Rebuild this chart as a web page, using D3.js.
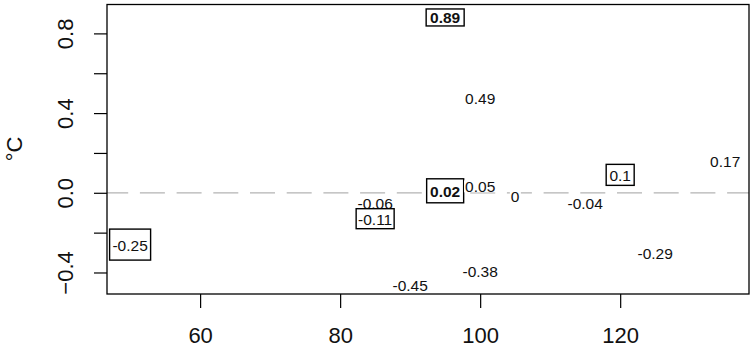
<!DOCTYPE html>
<html>
<head>
<meta charset="utf-8">
<script src="https://cdn.jsdelivr.net/npm/d3@7"></script>
<style>
  body { margin: 0; background: #fff; }
  text { font-family: "Liberation Sans", Arial, sans-serif; }
</style>
</head>
<body>
<div id="chart-area"></div>
<script>
// labelled points: x position, y position, printed value
const xVals = [50, 85, 85, 90, 95, 95, 100, 100, 100, 105, 115, 120, 125, 135]
const yVals = [-0.25, -0.04, -0.12, -0.455, 0.89, 0.02, 0.485, 0.045, -0.385, -0.005, -0.04, 0.10, -0.29, 0.17]
const labels = ['-0.25', '-0.06', '-0.11', '-0.45', '0.89', '0.02', '0.49', '0.05', '-0.38', '0', '-0.04', '0.1', '-0.29', '0.17']
const boxed = ['-0.25', '-0.11', '0.89', '0.02', '0.1']
const bold = ['0.89', '0.02']

const xTicks = [60, 80, 100, 120]
const yTicks = [-0.4, -0.2, 0, 0.2, 0.4, 0.6, 0.8]
const yTickLabels = [-0.4, 0, 0.4, 0.8]

// box sizes (w, h) for the framed labels
const boxSize = {'-0.25': [41, 31], '-0.11': [38, 20], '0.89': [38, 17], '0.02': [37, 24], '0.1': [28, 21]}

const width = 756
const height = 349
const plot = {left: 107, right: 749, top: 4.5, bottom: 294}

const svg = d3.select('#chart-area').append('svg')
  .attr('width', width)
  .attr('height', height)
  .style('display', 'block')

svg.append('rect').attr('width', width).attr('height', height).attr('fill', '#fff')

const x = d3.scaleLinear()
  .domain([46.7, 138.4])
  .range([plot.left, plot.right])

const y = d3.scaleLinear()
  .domain([-0.508, 0.945])
  .range([plot.bottom, plot.top])

// zero reference line
svg.append('line')
  .attr('x1', plot.left).attr('x2', plot.right)
  .attr('y1', y(0)).attr('y2', y(0))
  .attr('stroke', '#b4b4b4')
  .attr('stroke-width', 1.2)
  .attr('stroke-dasharray', '25,11.7')
  .attr('stroke-dashoffset', 3.8)

// x axis
const xAxisCall = d3.axisBottom(x)
  .tickValues(xTicks)
  .tickSize(14)
  .tickSizeOuter(0)
svg.append('g')
  .attr('class', 'x axis')
  .attr('transform', `translate(0,${plot.bottom})`)
  .call(xAxisCall)
  .call(g => g.select('.domain').remove())
  .call(g => g.selectAll('line').attr('stroke', '#000').attr('stroke-width', 1.2))
  .selectAll('text')
    .attr('y', 49)
    .attr('dy', null)
    .attr('fill', '#111')
    .style('font-size', '22px')

// y axis, labels only on every other tick, rotated like R
const yAxisCall = d3.axisLeft(y)
  .tickValues(yTicks)
  .tickSize(13)
  .tickSizeOuter(0)
  .tickFormat(d => yTickLabels.some(v => Math.abs(v - d) < 1e-9) ? d3.format('.1f')(d) : '')
svg.append('g')
  .attr('class', 'y axis')
  .attr('transform', `translate(${plot.left},0)`)
  .call(yAxisCall)
  .call(g => g.select('.domain').remove())
  .call(g => g.selectAll('line').attr('stroke', '#000').attr('stroke-width', 1.2))
  .selectAll('text')
    .attr('x', 0)
    .attr('y', 0)
    .attr('dy', null)
    .attr('text-anchor', 'middle')
    .attr('transform', 'translate(-34,0) rotate(-90)')
    .attr('fill', '#111')
    .style('font-size', '22px')

svg.append('text')
  .attr('transform', `translate(22,149) rotate(-90)`)
  .attr('text-anchor', 'middle')
  .attr('fill', '#111')
  .style('font-size', '22px')
  .text('°C')

// plot frame
svg.append('rect')
  .attr('x', plot.left).attr('y', plot.top)
  .attr('width', plot.right - plot.left)
  .attr('height', plot.bottom - plot.top)
  .attr('fill', 'none')
  .attr('stroke', '#000')
  .attr('stroke-width', 1.3)

// value labels
const pts = labels.map((lab, i) => ({x: xVals[i], y: yVals[i], label: lab}))

const lab = svg.append('g').selectAll('g')
  .data(pts)
  .enter().append('g')
  .attr('transform', d => `translate(${x(d.x)},${y(d.y) + 2.5})`)

lab.each(function(d) {
  const g = d3.select(this)
  const t = g.append('text')
    .attr('text-anchor', 'middle')
    .attr('y', 5.5)
    .attr('fill', '#111')
    .style('font-size', '15.5px')
    .style('font-weight', bold.includes(d.label) ? 'bold' : 'normal')
    .text(d.label)
  const bb = t.node().getBBox()
  if (boxed.includes(d.label)) {
    const [w, h] = boxSize[d.label]
    g.insert('rect', 'text')
      .attr('x', -w / 2).attr('y', -h / 2 - 0.5)
      .attr('width', w).attr('height', h)
      .attr('fill', '#fff')
      .attr('stroke', '#000')
      .attr('stroke-width', 1.4)
  } else {
    g.insert('rect', 'text')
      .attr('x', bb.x - 1).attr('y', -6)
      .attr('width', bb.width + 2).attr('height', 12)
      .attr('fill', '#fff')
  }
})
</script>
</body>
</html>
